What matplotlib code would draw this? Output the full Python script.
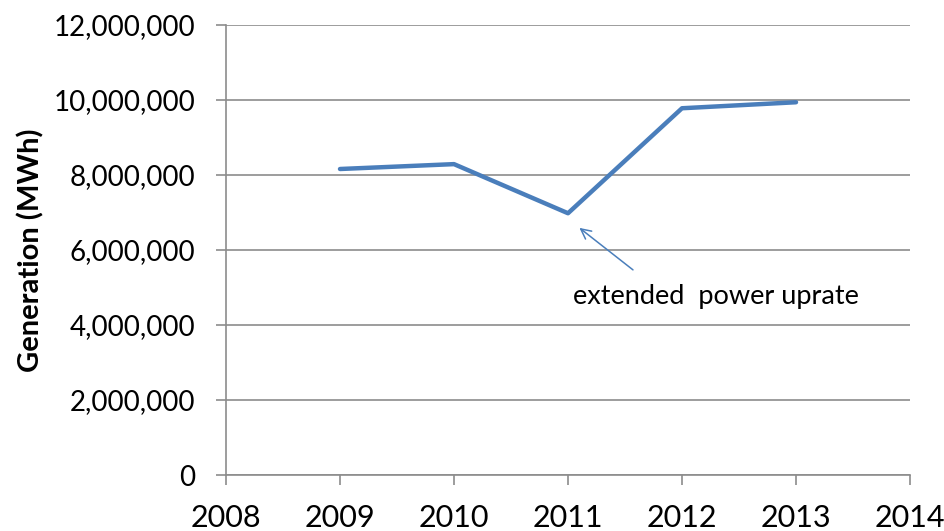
import matplotlib.pyplot as plt
from matplotlib.ticker import FuncFormatter

years = [2009, 2010, 2011, 2012, 2013]
generation_mwh = [8160000, 8290000, 6980000, 9780000, 9940000]

plt.rcParams['font.family'] = ['Lato', 'DejaVu Sans']

grid_color = '#8c8c8c'
line_color = '#4a7ebb'

fig = plt.figure(figsize=(9.44, 5.31), dpi=100)
ax = fig.add_axes([226 / 944, 56 / 531, 684 / 944, 450 / 531])

ax.plot(years, generation_mwh, color=line_color, linewidth=3.2, solid_capstyle='round')

ax.set_xlim(2008, 2014)
ax.set_ylim(0, 12000000)
ax.set_xticks(range(2008, 2015))
ax.set_yticks(range(0, 12000001, 2000000))
ax.yaxis.set_major_formatter(FuncFormatter(lambda v, p: f'{int(v):,}'))

ax.grid(axis='y', color=grid_color, linewidth=1.2)
ax.set_axisbelow(True)
for side in ['top', 'right']:
    ax.spines[side].set_visible(False)
for side in ['left', 'bottom']:
    ax.spines[side].set_color(grid_color)
    ax.spines[side].set_linewidth(1.2)

ax.tick_params(axis='both', colors=grid_color, labelcolor='black',
               length=7, width=1.2)
ax.tick_params(axis='x', labelsize=22, pad=14)
ax.tick_params(axis='y', labelsize=20, pad=15)

ax.set_ylabel('Generation (MWh)', fontsize=21, fontweight='bold', labelpad=7)

# note on the 2011 dip
ax.annotate('extended  power uprate', xy=(2011.1, 6590000), xytext=(2012.3, 4750000),
            fontsize=19.5, ha='center', va='center')
ax.annotate('', xy=(2011.1, 6590000), xytext=(2011.57, 5470000),
            arrowprops=dict(arrowstyle='->', color=line_color, lw=1.1,
                            mutation_scale=18, shrinkA=0, shrinkB=0))

fig.savefig('out.png', dpi=100)
